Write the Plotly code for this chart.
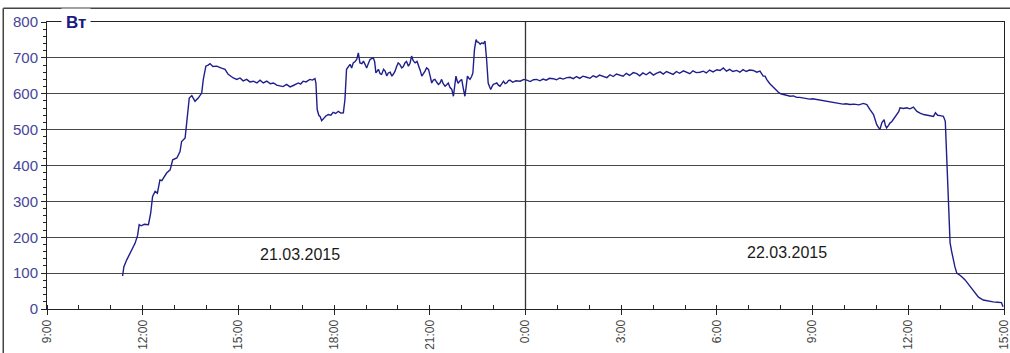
import plotly.graph_objects as go

# hours counted from 21.03.2015 00:00
hours = [
    11.37, 11.41, 11.50, 11.58, 11.65, 11.76, 11.84, 11.89, 11.95, 12.05, 12.18, 12.25, 12.31, 12.39, 12.46,
    12.54, 12.60, 12.65, 12.75, 12.86, 12.94, 13.07, 13.17, 13.22, 13.33, 13.40, 13.46, 13.54, 13.64, 13.74,
    13.85, 13.90, 13.98, 14.05, 14.11, 14.20, 14.32, 14.45, 14.58, 14.68, 14.76, 14.84, 14.95, 15.05, 15.15,
    15.26, 15.36, 15.47, 15.58, 15.68, 15.78, 15.89, 16.00, 16.10, 16.20, 16.30, 16.40, 16.51, 16.62, 16.72,
    16.80, 16.88, 16.95, 17.03, 17.12, 17.24, 17.32, 17.40, 17.43, 17.47, 17.52, 17.56, 17.61, 17.66, 17.74,
    17.82, 17.90, 17.97, 18.05, 18.13, 18.21, 18.29, 18.34, 18.39, 18.45, 18.50, 18.55, 18.60, 18.66, 18.71,
    18.76, 18.81, 18.87, 18.92, 18.97, 19.02, 19.08, 19.13, 19.23, 19.27, 19.31, 19.39, 19.44, 19.49, 19.55,
    19.60, 19.65, 19.70, 19.76, 19.81, 19.86, 19.91, 19.96, 20.01, 20.06, 20.12, 20.17, 20.22, 20.27, 20.33,
    20.38, 20.43, 20.48, 20.54, 20.60, 20.64, 20.70, 20.75, 20.80, 20.85, 20.90, 20.96, 21.01, 21.06, 21.11,
    21.16, 21.22, 21.27, 21.32, 21.37, 21.42, 21.48, 21.53, 21.58, 21.63, 21.69, 21.74, 21.78, 21.82, 21.86,
    21.89, 21.95, 22.00, 22.05, 22.10, 22.14, 22.18, 22.22, 22.26, 22.31, 22.35, 22.40, 22.45, 22.49, 22.52,
    22.58, 22.63, 22.68, 22.73, 22.78, 22.83, 22.88, 22.91, 22.95, 22.99, 23.05, 23.10, 23.15, 23.20, 23.26,
    23.31, 23.36, 23.41, 23.46, 23.51, 23.60, 23.70, 23.83, 23.95, 24.04, 24.15, 24.25, 24.35, 24.45, 24.55,
    24.65, 24.75, 24.87, 24.97, 25.08, 25.18, 25.30, 25.40, 25.50, 25.60, 25.70, 25.80, 25.92, 26.02, 26.12,
    26.22, 26.32, 26.44, 26.55, 26.65, 26.75, 26.85, 26.96, 27.06, 27.16, 27.26, 27.38, 27.49, 27.58, 27.68,
    27.78, 27.90, 28.01, 28.10, 28.22, 28.32, 28.42, 28.53, 28.63, 28.73, 28.83, 28.95, 29.05, 29.15, 29.25,
    29.35, 29.47, 29.57, 29.67, 29.77, 29.88, 30.00, 30.10, 30.20, 30.30, 30.40, 30.50, 30.62, 30.72, 30.82,
    30.92, 31.02, 31.14, 31.25, 31.35, 31.45, 31.51, 31.56, 31.66, 31.74, 31.82, 31.92, 32.00, 32.10, 32.19,
    32.30, 32.40, 32.50, 32.60, 32.70, 32.80, 32.90, 33.00, 33.13, 33.25, 33.38, 33.50, 33.65, 33.80, 33.95,
    34.05, 34.17, 34.30, 34.45, 34.59, 34.70, 34.80, 34.91, 35.01, 35.11, 35.17, 35.24, 35.28, 35.32, 35.38,
    35.43, 35.48, 35.53, 35.58, 35.64, 35.70, 35.74, 35.85, 35.95, 36.05, 36.16, 36.22, 36.27, 36.37, 36.48,
    36.60, 36.70, 36.79, 36.85, 36.92, 37.00, 37.10, 37.16, 37.19, 37.21, 37.26, 37.31, 37.36, 37.41, 37.46,
    37.52, 37.65, 37.78, 37.86, 37.94, 38.02, 38.09, 38.20, 38.35, 38.50, 38.66, 38.80, 38.92, 38.97,
]

power_w = [
    92, 118, 137, 150, 165, 183, 205, 235, 232, 236, 235, 267, 314, 328, 323,
    360, 358, 365, 379, 388, 416, 421, 439, 467, 477, 537, 588, 595, 579, 588,
    602, 640, 677, 680, 684, 676, 677, 672, 668, 654, 648, 644, 640, 644, 636,
    640, 633, 635, 630, 638, 630, 635, 628, 630, 624, 623, 620, 626, 619, 623,
    626, 630, 627, 635, 633, 640, 638, 642, 630, 556, 540, 537, 525, 530, 538,
    542, 540, 548, 545, 551, 546, 547, 584, 668, 676, 682, 672, 686, 690, 696,
    714, 686, 684, 691, 682, 672, 686, 696, 700, 690, 658, 668, 656, 654, 668,
    663, 650, 658, 660, 649, 655, 663, 676, 686, 682, 672, 676, 686, 690, 677,
    685, 705, 692, 686, 690, 682, 665, 649, 655, 663, 672, 668, 650, 630, 638,
    640, 632, 626, 630, 640, 628, 621, 625, 630, 618, 612, 593, 620, 649, 635,
    630, 636, 640, 615, 593, 620, 649, 644, 640, 648, 658, 723, 751, 744, 744,
    738, 742, 740, 747, 696, 630, 618, 612, 620, 626, 628, 630, 624, 621, 628,
    635, 628, 630, 636, 638, 632, 636, 635, 640, 638, 634, 639, 640, 636, 641,
    638, 643, 642, 639, 644, 641, 645, 646, 642, 648, 643, 649, 646, 643, 650,
    646, 652, 649, 645, 653, 648, 655, 652, 649, 657, 651, 659, 656, 650, 658,
    653, 660, 652, 657, 661, 655, 662, 658, 654, 662, 657, 664, 661, 656, 664,
    659, 660, 663, 658, 666, 661, 667, 665, 672, 663, 668, 662, 665, 660, 667,
    662, 666, 665, 660, 663, 649, 649, 640, 628, 620, 612, 605, 600, 597, 596,
    593, 594, 590, 590, 588, 588, 585, 586, 584, 582, 580, 578, 575, 574, 571,
    572, 570, 571, 569, 573, 570, 556, 542, 514, 500, 519, 528, 512, 505, 512,
    519, 522, 528, 535, 542, 550, 561, 559, 561, 558, 563, 556, 551, 546, 542,
    540, 538, 537, 547, 540, 539, 537, 523, 450, 397, 304, 184, 160, 137, 118,
    100, 92, 81, 72, 62, 52, 44, 33, 25, 22, 20, 19, 18, 6,
]

tick_hours = [9, 12, 15, 18, 21, 24, 27, 30, 33, 36, 39]
tick_labels = ["9:00", "12:00", "15:00", "18:00", "21:00", "0:00",
               "3:00", "6:00", "9:00", "12:00", "15:00"]
y_ticks = [0, 100, 200, 300, 400, 500, 600, 700, 800]
midnight = [24]
date_labels = ["21.03.2015", "22.03.2015"]
date_label_hours = [16.93, 32.2]
date_label_values = [152, 157]
unit_label = "Вт"

FONT = "Arial, 'Liberation Sans', sans-serif"

fig = go.Figure()
fig.add_trace(go.Scatter(
    x=hours, y=power_w, mode="lines",
    line=dict(color="#1f1f8c", width=1.4),
    hoverinfo="skip", showlegend=False,
))

fig.update_layout(
    width=1010, height=353,
    margin=dict(l=47, r=6, t=22, b=44, autoexpand=False),
    paper_bgcolor="white", plot_bgcolor="white",
    font=dict(family=FONT),
    xaxis=dict(
        range=[9, 39], tickmode="array", tickvals=tick_hours, ticktext=tick_labels,
        tickangle=-90, tickfont=dict(size=12, color="#454545"), automargin=False,
        ticklabeloverflow="allow",
        showgrid=False, zeroline=False,
        showline=True, linecolor="#222", linewidth=1, mirror=True,
        ticks="outside", ticklen=5, tickcolor="#222",
        minor=dict(dtick=1, tick0=0, ticks="inside", ticklen=4, tickcolor="#222", showgrid=False),
    ),
    yaxis=dict(
        range=[0, 800], tickmode="array", tickvals=y_ticks,
        tickfont=dict(size=15, color="#45459a"), automargin=False,
        showgrid=True, gridcolor="#484848", gridwidth=1.4, zeroline=False,
        showline=True, linecolor="#222", linewidth=1, mirror=True,
        ticks="outside", ticklen=5, tickcolor="#222",
        minor=dict(dtick=20, ticks="outside", ticklen=3, tickcolor="#222", showgrid=False),
    ),
)

for h in midnight:
    fig.add_shape(type="line", xref="x", yref="paper", x0=h, x1=h, y0=0, y1=1,
                  line=dict(color="#333", width=1.3))

# outer frame (top and left edges)
fig.add_shape(type="line", xref="paper", yref="paper", x0=-0.0457, x1=1.01, y0=1.048, y1=1.048,
              line=dict(color="#444", width=1.5))
fig.add_shape(type="line", xref="paper", yref="paper", x0=-0.0457, x1=-0.0457, y0=-0.2, y1=1.048,
              line=dict(color="#444", width=1.5))

for txt, hx, vy in zip(date_labels, date_label_hours, date_label_values):
    fig.add_annotation(x=hx, y=vy, xref="x", yref="y", text=txt, showarrow=False,
                       font=dict(size=16, color="#1a1a1a", family=FONT))

fig.add_annotation(x=9.91, y=800, xref="x", yref="y", text="<b>" + unit_label + "</b>",
                   showarrow=False, bgcolor="white", borderpad=4,
                   font=dict(size=17, color="#1a1a80", family=FONT))

fig.write_html("out.html", config={"displayModeBar": False},
               post_script="document.body.style.margin='0';document.body.style.overflow='hidden';")
